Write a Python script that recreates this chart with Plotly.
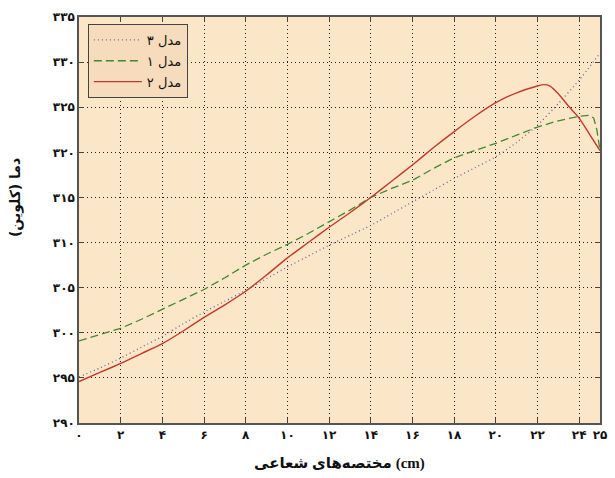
import plotly.graph_objects as go

# ---- data ----
x_m3 = [0, 1, 2, 3, 4, 5, 6, 7, 8, 9, 10, 11, 12, 13, 14, 15, 16, 17, 18, 19, 20, 21, 22, 23, 24, 25]
y_m3 = [295.1, 296.1, 297.2, 298.4, 299.6, 301.0, 302.3, 303.5, 304.7, 306.0, 307.3, 308.5, 309.7,
        310.8, 311.9, 313.2, 314.5, 315.8, 317.1, 318.3, 319.5, 321.1, 323.0, 325.4, 328.0, 331.0]

x_m1 = [0, 1, 2, 3, 4, 5, 6, 7, 8, 9, 10, 11, 12, 13, 14, 15, 16, 17, 18, 19, 20, 21, 22, 23, 24,
        24.5, 24.7, 24.85, 25]
y_m1 = [299.1, 299.8, 300.5, 301.5, 302.6, 303.7, 304.8, 306.1, 307.5, 308.7, 309.8, 311.0, 312.3,
        313.6, 315.0, 316.0, 316.9, 318.2, 319.4, 320.2, 321.0, 321.9, 322.8, 323.5, 324.0,
        324.1, 323.8, 322.5, 320.2]

x_m2 = [0, 1, 2, 3, 4, 5, 6, 7, 8, 9, 10, 11, 12, 13, 14, 15, 16, 17, 18, 19, 20, 21, 22,
        22.3, 22.6, 23, 23.5, 24, 24.5, 25]
y_m2 = [294.6, 295.6, 296.6, 297.7, 298.8, 300.2, 301.7, 303.1, 304.6, 306.4, 308.3, 310.0, 311.7,
        313.3, 315.0, 316.8, 318.6, 320.5, 322.3, 324.0, 325.5, 326.6, 327.35,
        327.5, 327.35, 326.5, 325.1, 323.8, 322.0, 320.2]

x_tickvals = [0, 2, 4, 6, 8, 10, 12, 14, 16, 18, 20, 22, 24, 25]
x_ticktext = ["۰", "۲", "۴", "۶", "۸", "۱۰", "۱۲", "۱۴", "۱۶", "۱۸", "۲۰", "۲۲", "۲۴", "۲۵"]
y_tickvals = [290, 295, 300, 305, 310, 315, 320, 325, 330, 335]
y_ticktext = ["۲۹۰", "۲۹۵", "۳۰۰", "۳۰۵", "۳۱۰", "۳۱۵", "۳۲۰", "۳۲۵", "۳۳۰", "۳۳۵"]

names = ["مدل ۳", "مدل ۱", "مدل ۲"]
x_title = "مختصه‌های شعاعی (cm)"
y_title = "دما (کلوین)"

fig = go.Figure()
fig.add_trace(go.Scatter(x=x_m3, y=y_m3, mode="lines", name=names[0], legendgroup="a",
                         line=dict(color="#6f5fa8", width=1.3, dash="1px,3px", shape="spline", smoothing=0.4)))
fig.add_trace(go.Scatter(x=x_m1, y=y_m1, mode="lines", name=names[1], legendgroup="b",
                         line=dict(color="#3f8a2a", width=1.3, dash="8px,4px")))
fig.add_trace(go.Scatter(x=x_m2, y=y_m2, mode="lines", name=names[2], legendgroup="c",
                         line=dict(color="#c23a2a", width=1.4, shape="spline", smoothing=0.5)))

axis_common = dict(
    showline=True, linecolor="#555555", linewidth=1.5, mirror="ticks",
    ticks="inside", ticklen=5, tickcolor="#444444", tickwidth=1.3,
    showgrid=True, gridcolor="#222222", gridwidth=1.2, griddash="1px,3px",
    zeroline=False,
    tickfont=dict(family="DejaVu Sans, Noto Sans", size=12, color="#111111", weight="bold"),
)

fig.update_layout(
    width=615, height=478,
    margin=dict(l=79, r=8, t=17, b=55),
    paper_bgcolor="white",
    plot_bgcolor="#fce6c8",
    font=dict(family="DejaVu Sans, Noto Sans", color="#111111"),
    xaxis=dict(range=[0, 25], tickvals=x_tickvals, ticktext=x_ticktext, **axis_common),
    yaxis=dict(range=[290, 335], tickvals=y_tickvals, ticktext=y_ticktext, **axis_common),
    legend=dict(x=0.017, y=0.983, xanchor="left", yanchor="top",
                bgcolor="#f6dcbc", bordercolor="#444444", borderwidth=1,
                font=dict(size=13, color="#111111"), tracegroupgap=1, traceorder="grouped",
                itemwidth=48),
    showlegend=True,
)
fig.add_annotation(text=x_title, xref="paper", yref="paper",
                   x=0.5, y=-0.075, xanchor="center", yanchor="top", showarrow=False,
                   font=dict(size=15, family="Liberation Serif, DejaVu Sans", color="#111111", weight="bold"))
fig.add_annotation(text=y_title, xref="paper", yref="paper",
                   x=-0.122, y=0.555, xanchor="center", yanchor="middle", showarrow=False,
                   textangle=-90,
                   font=dict(size=14, family="DejaVu Sans", color="#111111", weight="bold"))

fig.write_html("out.html",
               config={"displayModeBar": False, "responsive": False},
               post_script="document.body.style.margin='0';document.body.style.overflow='hidden';")
